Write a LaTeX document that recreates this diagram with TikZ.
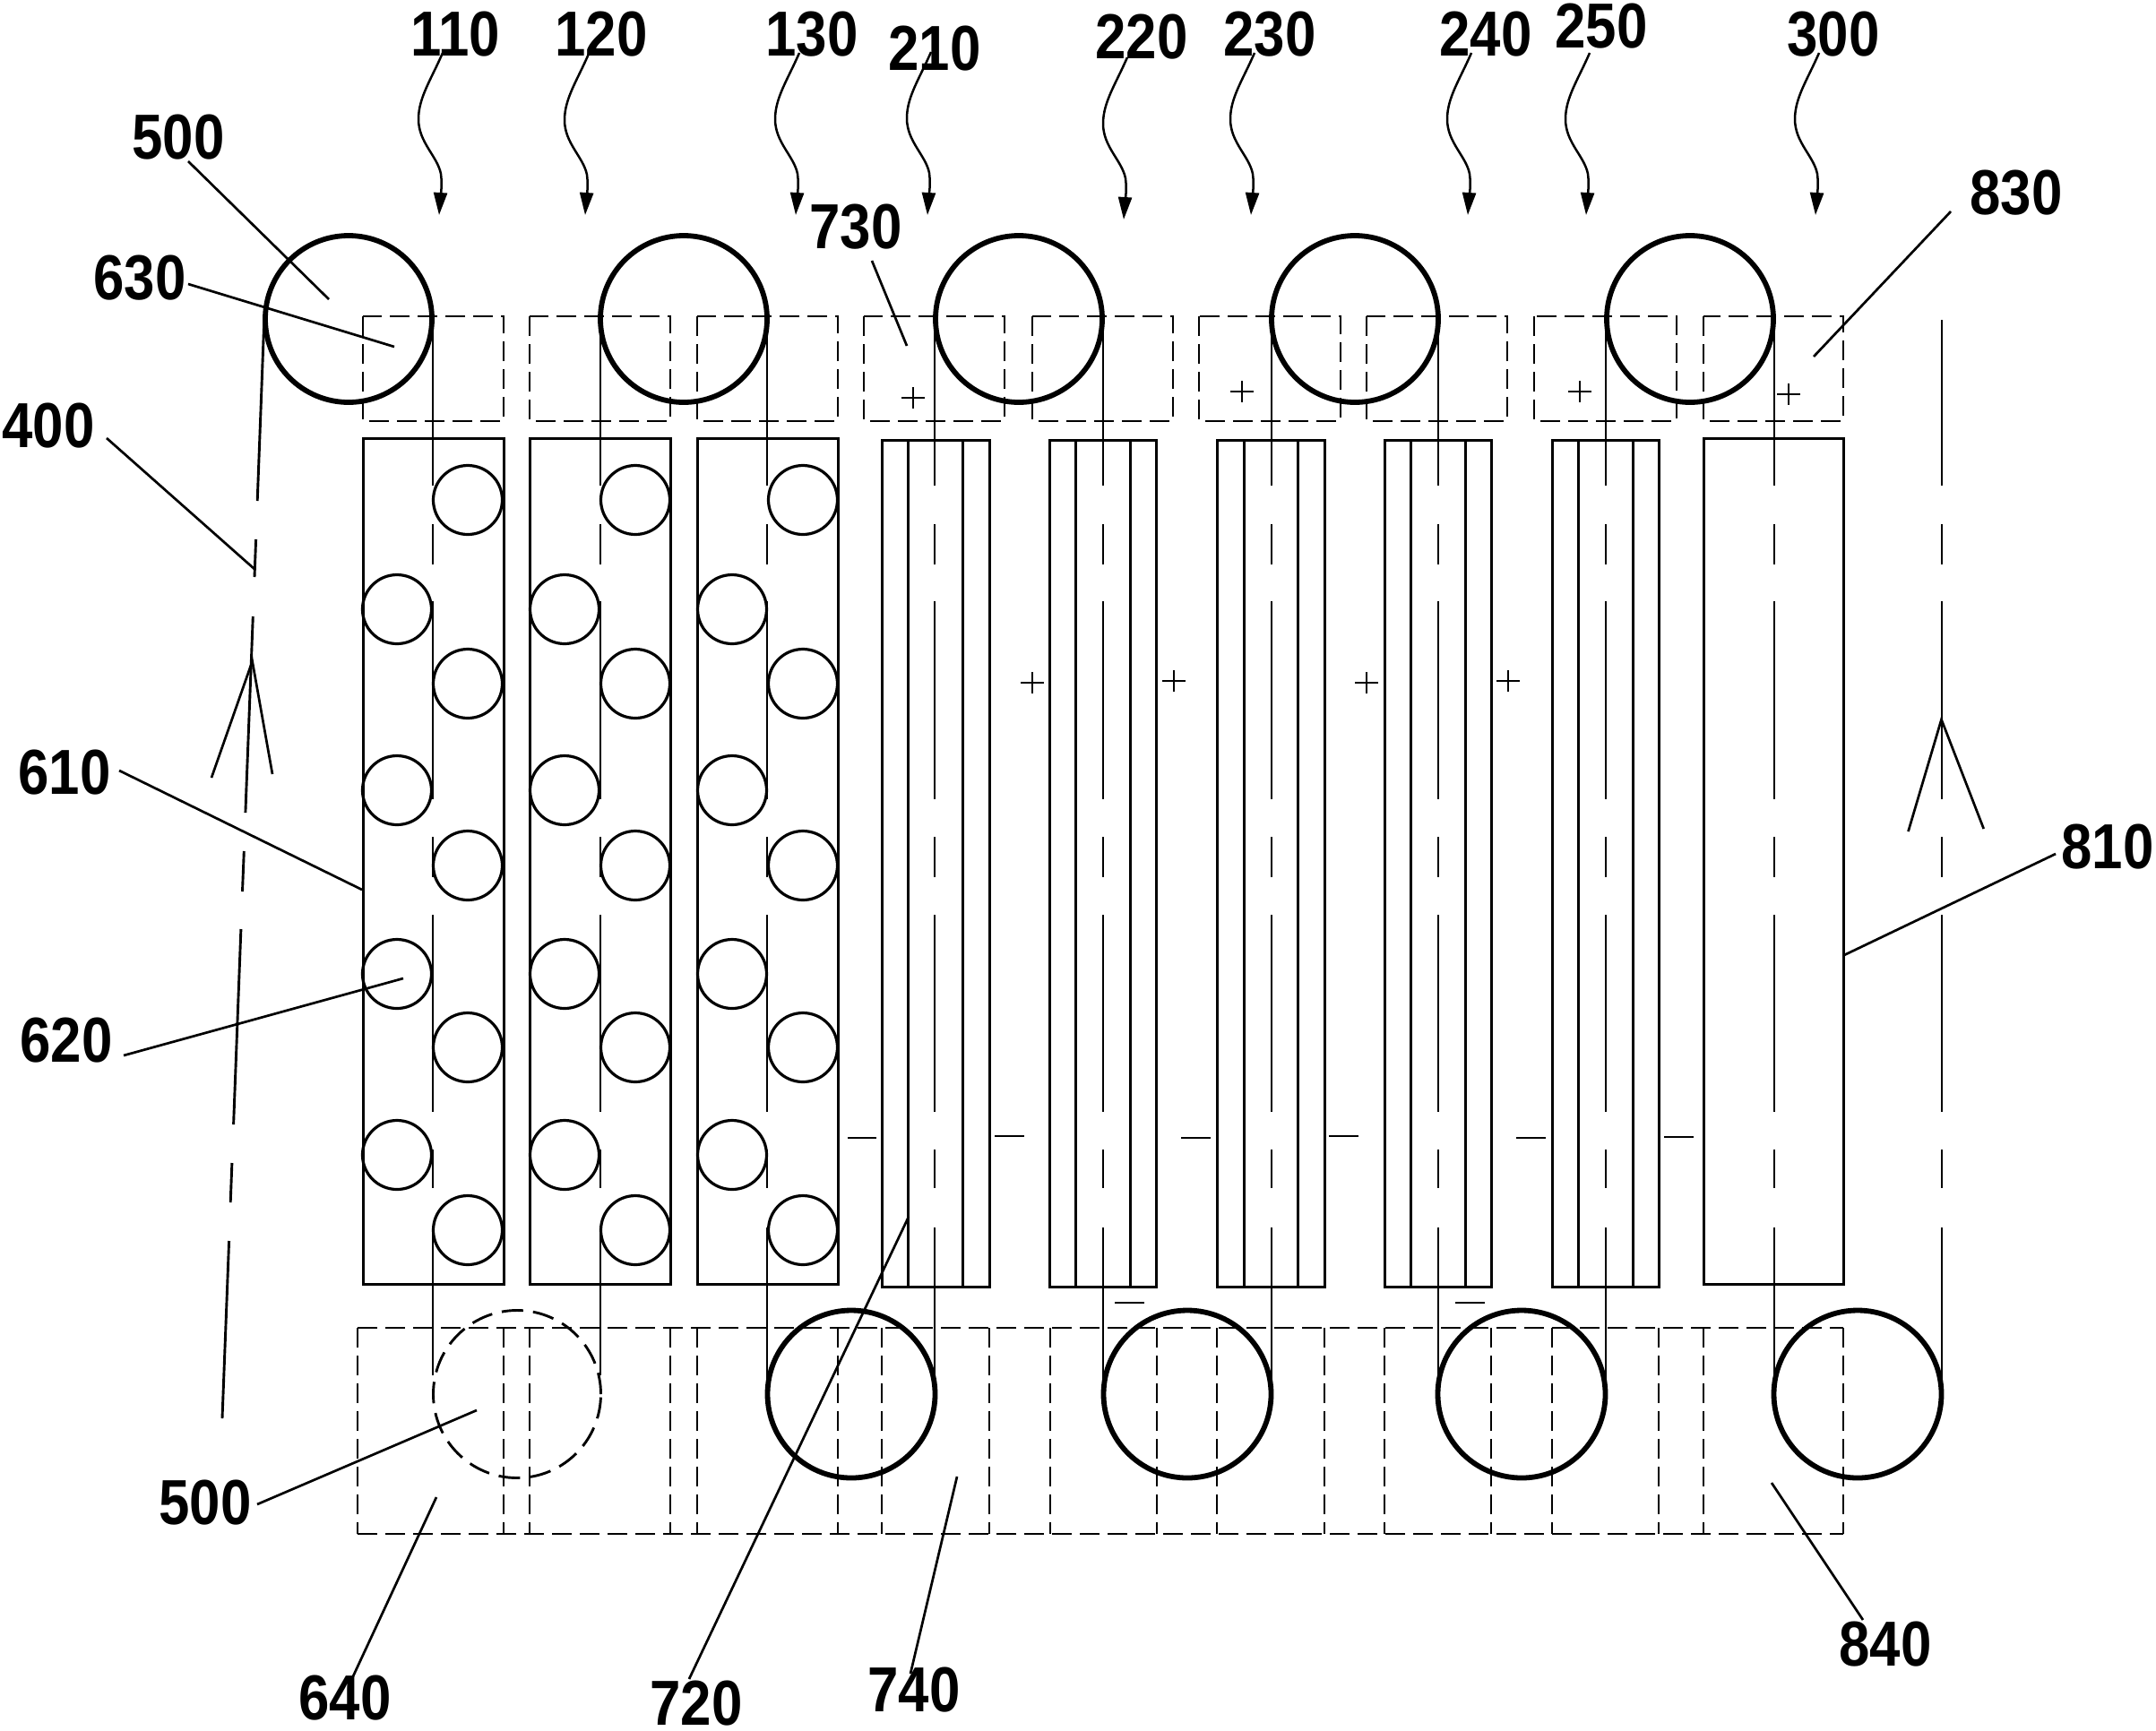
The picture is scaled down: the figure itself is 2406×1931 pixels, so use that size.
\documentclass[tikz,border=0pt]{standalone}
\usepackage{fontspec}
\usetikzlibrary{arrows.meta}
\newfontfamily\lblfont[FakeStretch=0.87]{Liberation Sans}
\tikzset{
  thin line/.style={line width=2.9pt,line cap=butt},
  leader/.style={line width=2.7pt},
  tankbox/.style={line width=3pt},
  dashbox/.style={line width=2.9pt,dash pattern=on 22pt off 9pt},
  bigroll/.style={line width=5.8pt},
  smallroll/.style={line width=3.2pt},
  lbl/.style={inner sep=0pt,font=\lblfont\bfseries\fontsize{71}{71}\selectfont},
  squig/.style={line width=2.5pt,-{Triangle[length=25pt,width=15pt]}},
}
% label with leader line
\newcommand\lblead[7]{%
  \node[lbl] (n#1) at (#3,#4) {#2};
  \coordinate (a#1) at (#5);
  \coordinate (b#1) at (#6,#7);
  \draw[leader] (a#1) -- (b#1);
}
% label with wavy arrow
\newcommand\lbsquig[7]{%
  \node[lbl] (n#1) at (#3,#4) {#2};
  \coordinate (s#1) at (#5,#6);
  \coordinate (t#1) at (#5-4,#7);
  \draw[squig] (s#1) .. controls (#5-13,#6+30) and (#5-27,#6+50) .. (#5-27,#6+74)
     .. controls (#5-27,#6+100) and (#5-6,#6+115) .. (#5-2,#6+135)
     .. controls (#5,#6+150) and (#5-3,#6+165) .. (t#1);
}
% dash-dot strand at x from y-start to y-end
\newcommand\strand[3]{%
  \draw[thin line] (#1,#2) -- (#1,542);
  \draw[thin line] (#1,585) -- (#1,630);
  \draw[thin line] (#1,671) -- (#1,892);
  \draw[thin line] (#1,934) -- (#1,979);
  \draw[thin line] (#1,1021) -- (#1,1241);
  \draw[thin line] (#1,1283) -- (#1,1326);
  \draw[thin line] (#1,1370) -- (#1,#3);
}
\newcommand\plusmark[2]{%
  \draw[line width=2.6pt] (#1-13,#2) -- (#1+13,#2) (#1,#2-12) -- (#1,#2+12);
}
\newcommand\minusmark[3]{%
  \draw[line width=2.8pt] (#1,#3) -- (#2,#3);
}
\begin{document}
\begin{tikzpicture}[x=1pt,y=-1pt]
\useasboundingbox (0,0) rectangle (2406,1931);
\fill[white] (0,0) rectangle (2406,1931);

% upper dashed boxes
\foreach \l/\r in {405/562,591/748,778/935,964/1121,1152/1309,1338/1496,1525/1682,1712/1871,1901/2057}
  \draw[dashbox] (\l,353) rectangle (\r,470);

% lower dashed row
\draw[dashbox] (399,1482) -- (2057,1482);
\draw[dashbox] (399,1712) -- (2057,1712);
\foreach \x in {399,562,591,748,778,935,984,1104,1172,1291,1358,1478,1545,1664,1732,1851,1901,2057}
  \draw[dashbox] (\x,1482) -- (\x,1712);

% roller tanks
\foreach \l/\r in {405/562,591/748,778/935}
  \draw[tankbox] (\l,489) rectangle (\r,1433);
\foreach \c in {443,630,817}{
  \foreach \y in {680,882,1087,1289}
    \draw[smallroll] (\c,\y) circle[radius=38.5pt];
  \pgfmathsetmacro\d{\c+79}
  \foreach \y in {558,763,966,1169,1373}
    \draw[smallroll] (\d,\y) circle[radius=38.5pt];
}
% electrode tanks
\foreach \a/\b/\c/\d in {984/1013/1074/1104,1171/1200/1261/1290,1358/1388/1448/1478,1545/1574/1635/1664,1732/1761/1822/1851}{
  \draw[tankbox] (\a,491) rectangle (\d,1436);
  \draw[tankbox] (\b,491) -- (\b,1436) (\c,491) -- (\c,1436);
}
\draw[tankbox] (1901,489) rectangle (2057,1433);

% strands
\strand{483}{356}{1535}
\strand{670}{356}{1535}
\strand{856}{356}{1556}
\strand{1043}{356}{1556}
\strand{1231}{356}{1556}
\strand{1419}{356}{1556}
\strand{1605}{356}{1556}
\strand{1792}{356}{1556}
\strand{1980}{356}{1556}
\strand{2167}{357}{1556}

% left slanted strand
\draw[thin line] (295,352) -- (287.2,559);
\draw[thin line] (285.6,602) -- (284,644);
\draw[thin line] (282.3,688) -- (273.9,907);
\draw[thin line] (272.3,950) -- (270.5,995);
\draw[thin line] (268.9,1037) -- (260.6,1255);
\draw[thin line] (258.9,1298) -- (257.2,1342);
\draw[thin line] (255.6,1385) -- (248,1583);

% big rollers
\foreach \x in {389,763,1137,1512,1886}
  \draw[bigroll] (\x,356) circle[radius=93pt];
\foreach \x in {950,1325,1698,2073}
  \draw[bigroll] (\x,1556) circle[radius=93.5pt];
\draw[line width=2.9pt,dash pattern=on 24pt off 11pt] (577,1556) circle[radius=93.5pt];

% direction arrows
\coordinate (la) at (281.6,738);
\coordinate (ll) at (236,868);
\coordinate (lr) at (304,864);
\draw[leader] (ll) -- (la) -- (lr);
\coordinate (ra) at (2166.5,803);
\coordinate (rl) at (2129.5,928);
\coordinate (rr) at (2213.7,925);
\draw[leader] (rl) -- (ra) -- (rr);

% plus and minus marks
\plusmark{1019}{444}
\plusmark{1386}{437}
\plusmark{1763}{437}
\plusmark{1996}{440}
\plusmark{1152}{762}
\plusmark{1310}{760}
\plusmark{1525}{762}
\plusmark{1683}{760}
\minusmark{946}{978}{1270}
\minusmark{1110}{1143}{1268}
\minusmark{1318}{1351}{1270}
\minusmark{1483}{1516}{1268}
\minusmark{1692}{1725}{1270}
\minusmark{1857}{1890}{1269}
\minusmark{1244}{1277}{1454}
\minusmark{1624}{1657}{1454}

% labels with wavy arrows
\lbsquig{110}{110}{508}{38}{494}{59}{240}
\lbsquig{120}{120}{671}{38}{657}{60}{240}
\lbsquig{130}{130}{906}{38}{892}{59}{240}
\lbsquig{210}{210}{1043}{54}{1039}{58}{240}
\lbsquig{220}{220}{1274}{41}{1258}{64}{245}
\lbsquig{230}{230}{1417}{38}{1400}{59}{240}
\lbsquig{240}{240}{1658}{38}{1642}{59}{240}
\lbsquig{250}{250}{1787}{29}{1774}{59}{240}
\lbsquig{300}{300}{2046}{38}{2030}{59}{240}

% labels with straight leaders
\lblead{500t}{500}{199}{153}{210,180}{367}{334}
\lblead{630}{630}{156}{310}{210,317}{440}{387}
\lblead{400}{400}{54}{475}{119,489}{285}{636}
\lblead{730}{730}{955}{253}{973,291}{1012}{386}
\lblead{830}{830}{2250}{215}{2177,236}{2024}{398}
\lblead{610}{610}{72}{862}{133,860}{404}{993}
\lblead{620}{620}{74}{1161}{138,1178}{450}{1092}
\lblead{810}{810}{2352}{945}{2294,953}{2058}{1066}
\lblead{500b}{500}{229}{1677}{287,1679}{532}{1574}
\lblead{640}{640}{385}{1895}{394,1871}{487}{1671}
\lblead{720}{720}{777}{1901}{769,1874}{1014}{1358}
\lblead{740}{740}{1020}{1886}{1016,1868}{1068}{1648}
\lblead{840}{840}{2104}{1835}{2079,1808}{1977}{1655}
\end{tikzpicture}
\end{document}
